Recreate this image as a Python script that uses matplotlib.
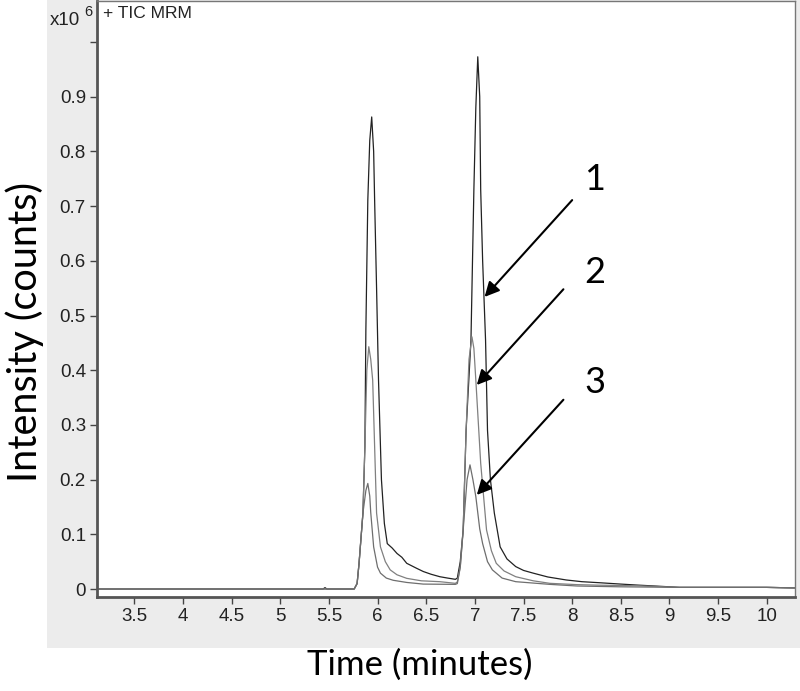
import matplotlib
matplotlib.use("Agg")
import matplotlib.pyplot as plt
from matplotlib.patches import Rectangle
import numpy as np

# retention time (min) and intensity (x10^6 counts)
t1 = [3.12, 5.44, 5.46, 5.48, 5.76, 5.79, 5.81, 5.85, 5.87, 5.88, 5.90, 5.92, 5.94,
      5.96, 5.97, 5.99, 6.01, 6.04, 6.07, 6.10, 6.15, 6.20, 6.25, 6.30, 6.40, 6.47,
      6.55, 6.64, 6.72, 6.80, 6.82, 6.85, 6.88, 6.91, 6.96, 6.99, 7.01, 7.03, 7.05,
      7.06, 7.08, 7.11, 7.13, 7.16, 7.20, 7.26, 7.33, 7.42, 7.50, 7.60, 7.75, 7.94,
      8.10, 8.28, 8.50, 8.66, 8.90, 9.10, 9.50, 10.0, 10.29]
v1 = [0, 0, 0.0025, 0, 0, 0.01, 0.047, 0.139, 0.26, 0.473, 0.711, 0.82, 0.863,
      0.80, 0.711, 0.55, 0.382, 0.20, 0.12, 0.083, 0.075, 0.065, 0.058, 0.047, 0.038, 0.032,
      0.027, 0.0225, 0.020, 0.0177, 0.02, 0.05, 0.108, 0.29, 0.455, 0.73, 0.88, 0.973, 0.90,
      0.73, 0.60, 0.455, 0.29, 0.20, 0.139, 0.077, 0.055, 0.041, 0.034, 0.029, 0.022, 0.0165,
      0.0134, 0.0115, 0.009, 0.0073, 0.005, 0.003, 0.003, 0.003, 0.002]

t2 = [3.12, 5.76, 5.79, 5.81, 5.85, 5.87, 5.89, 5.91, 5.93, 5.95, 5.99, 6.03, 6.08,
      6.13, 6.20, 6.30, 6.45, 6.64, 6.80, 6.82, 6.85, 6.88, 6.91, 6.94, 6.97, 6.99,
      7.01, 7.06, 7.12, 7.17, 7.22, 7.30, 7.42, 7.60, 7.77, 8.05, 8.28, 8.66, 9.1,
      10.0, 10.29]
v2 = [0, 0, 0.01, 0.047, 0.139, 0.26, 0.40, 0.443, 0.42, 0.382, 0.139, 0.077, 0.05,
      0.035, 0.026, 0.0195, 0.015, 0.0134, 0.0104, 0.013, 0.04, 0.108, 0.29, 0.42, 0.461, 0.44,
      0.382, 0.23, 0.108, 0.07, 0.047, 0.033, 0.0225, 0.015, 0.0104, 0.008, 0.007, 0.006, 0.003,
      0.003, 0.002]

t3 = [3.12, 5.76, 5.79, 5.81, 5.85, 5.88, 5.90, 5.92, 5.93, 5.96, 6.00, 6.03, 6.09,
      6.16, 6.30, 6.47, 6.80, 6.82, 6.85, 6.88, 6.92, 6.95, 6.98, 7.01, 7.05, 7.08,
      7.13, 7.18, 7.28, 7.42, 7.77, 8.05, 8.5, 9.1, 10.0, 10.29]
v3 = [0, 0, 0.01, 0.047, 0.139, 0.18, 0.193, 0.17, 0.14, 0.077, 0.04, 0.029, 0.02,
      0.016, 0.012, 0.009, 0.0085, 0.01, 0.04, 0.108, 0.20, 0.227, 0.20, 0.169, 0.11, 0.083,
      0.05, 0.035, 0.02, 0.0134, 0.0085, 0.0055, 0.004, 0.003, 0.003, 0.002]

# arrow labels: text spot, arrow tail, arrow tip (data units)
lab_names = ["1", "2", "3"]
lab_t = [8.23, 8.23, 8.23]
lab_v = [0.748, 0.578, 0.377]
tail_t = [8.00, 7.91, 7.91]
tail_v = [0.711, 0.548, 0.346]
tip_t = [7.10, 7.02, 7.02]
tip_v = [0.534, 0.373, 0.172]

yticks = np.arange(0, 1.01, 0.1)
ylabels = ["0", "0.1", "0.2", "0.3", "0.4", "0.5", "0.6", "0.7", "0.8", "0.9", ""]
xticks = np.arange(3.5, 10.01, 0.5)
xlabels = ["3.5", "4", "4.5", "5", "5.5", "6", "6.5", "7", "7.5", "8", "8.5", "9", "9.5", "10"]

W, H = 800, 691
fig = plt.figure(figsize=(8, 6.91), dpi=100)
fig.patches.append(Rectangle((47 / W, 1 - 648 / H), 1, 648 / H, transform=fig.transFigure,
                             facecolor="#ececec", edgecolor="none", zorder=-10))

ax = fig.add_axes([97 / W, 1 - 597 / H, (795 - 97) / W, (597 - 1) / H])
ax.set_facecolor("white")

ax.plot(t1, v1, color="#222222", lw=0.9)
ax.plot(t2, v2, color="#808080", lw=0.9)
ax.plot(t3, v3, color="#6e6e6e", lw=0.9)

ax.set_xlim(3.117, 10.29)
ax.set_ylim(-0.0146, 1.075)

tick_font = ["Liberation Sans Narrow", "Liberation Sans"]
ax.set_yticks(yticks)
ax.set_yticklabels(ylabels, family=tick_font, fontsize=13.5, color="#222222")
ax.set_xticks(xticks)
ax.set_xticklabels(xlabels, family=tick_font, fontsize=13.5, color="#222222")
ax.tick_params(axis="both", direction="out", length=5, width=1, color="#444444", pad=3)

for side in ["left", "bottom"]:
    ax.spines[side].set_color("#555555")
    ax.spines[side].set_linewidth(2)
for side in ["top", "right"]:
    ax.spines[side].set_color("#777777")
    ax.spines[side].set_linewidth(1)

ax.text(0.008, 0.992, "+ TIC MRM", transform=ax.transAxes, ha="left", va="top",
        family=tick_font, fontsize=12.5, color="#222222")
fig.text(50 / W, 1 - 25 / H, "x10", ha="left", va="baseline",
         family=tick_font, fontsize=13.5, color="#222222")
fig.text(84 / W, 1 - 16 / H, "6", ha="left", va="baseline",
         family=tick_font, fontsize=10.5, color="#222222")

for name, lt, lv, at, av, pt, pv in zip(lab_names, lab_t, lab_v, tail_t, tail_v, tip_t, tip_v):
    ax.annotate("", xy=(pt, pv), xytext=(at, av),
                arrowprops=dict(arrowstyle="-|>", color="black", lw=1.5, mutation_scale=22,
                                shrinkA=0, shrinkB=0))
    ax.text(lt, lv, name, ha="center", va="center", family="Lato", fontsize=26, color="black")

fig.text(25 / W, 1 - 332 / H, "Intensity (counts)", rotation=90, ha="center", va="center",
         family="Lato", fontsize=28.5, color="black")
fig.text(420 / W, 1 - 665 / H, "Time (minutes)", ha="center", va="center",
         family="Lato", fontsize=25, color="black")

fig.savefig("out.png", dpi=100)
